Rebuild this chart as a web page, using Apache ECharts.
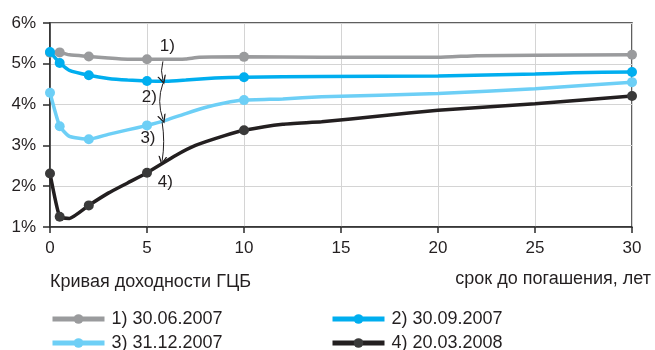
<!DOCTYPE html>
<html>
<head>
<meta charset="utf-8">
<script src="https://cdn.jsdelivr.net/npm/echarts@6/dist/echarts.min.js"></script>
<style>
  html, body { margin: 0; padding: 0; background: #fff; }
  #chart { width: 655px; height: 350px; }
</style>
</head>
<body>
<div id="chart"></div>
<script>
// Yield curves of government bonds (ГЦБ): yield, % vs. years to maturity
const seriesNames = ['1) 30.06.2007', '2) 30.09.2007', '3) 31.12.2007', '4) 20.03.2008'];
const seriesColors = ['#9a9b9d', '#00aeef', '#6dcff6', '#231f20'];

// maturities that carry a dot marker on every curve
const markedTerms = [0, 0.5, 2, 5, 10, 30];

const terms1  = [0, 0.5, 1, 2, 3, 4, 5, 6, 7, 7.7, 10, 14, 20, 22, 25, 30];
const yields1 = [5.27, 5.28, 5.22, 5.18, 5.14, 5.11, 5.11, 5.11, 5.12, 5.16, 5.17, 5.16, 5.16, 5.2, 5.21, 5.22];

const terms2  = [0, 0.5, 1, 2, 3, 4, 5, 6, 7, 8.5, 10, 14, 20, 25, 27, 30];
const yields2 = [5.29, 5.02, 4.84, 4.72, 4.64, 4.6, 4.58, 4.57, 4.6, 4.65, 4.67, 4.69, 4.7, 4.75, 4.78, 4.8];

const terms3  = [0, 0.5, 1, 2, 3, 4, 5, 6, 7, 8, 9, 10, 12, 14, 20, 25, 30];
const yields3 = [4.29, 3.47, 3.22, 3.15, 3.27, 3.38, 3.49, 3.62, 3.78, 3.93, 4.04, 4.11, 4.14, 4.19, 4.27, 4.39, 4.55];

const terms4  = [0, 0.5, 1, 2, 3, 4, 5, 6.5, 7.5, 9, 10, 12, 14, 17, 20, 25, 30];
const yields4 = [2.31, 1.25, 1.21, 1.53, 1.83, 2.08, 2.33, 2.76, 3.0, 3.24, 3.37, 3.52, 3.58, 3.72, 3.86, 4.02, 4.21];

// axis ticks
const xTicks = [0, 5, 10, 15, 20, 25, 30];
const yTicks = [1, 2, 3, 4, 5, 6];

// arrows between successive curves: [term, fromYield, toYield, curveness]
const arrowSpans = [
  [5.82, 5.06, 4.60, -0.15],
  [5.82, 4.52, 3.64, -0.18],
  [5.78, 3.57, 2.62, 0.08]
];
// curve number labels: [term, yield, text]
const curveLabels = [
  [6.05, 5.42, '1)'],
  [5.12, 4.18, '2)'],
  [5.05, 3.18, '3)'],
  [5.95, 2.10, '4)']
];

const FONT = '"Liberation Sans Narrow", "Liberation Sans", Arial, sans-serif';
const TEXT = '#231f20';

function buildData(terms, yields) {
  return terms.map((t, i) => ({
    value: [t, yields[i]],
    symbol: markedTerms.includes(t) ? 'circle' : 'none'
  }));
}

const allTerms = [terms1, terms2, terms3, terms4];
const allYields = [yields1, yields2, yields3, yields4];

const series = seriesNames.map((name, k) => ({
  name: name,
  type: 'line',
  smooth: 0.15,
  data: buildData(allTerms[k], allYields[k]),
  symbol: 'circle',
  symbolSize: 10,
  color: seriesColors[k],
  lineStyle: { width: 3.5, color: seriesColors[k] },
  itemStyle: { color: k === 3 ? '#3a3a3a' : seriesColors[k] },
  z: 3 + k,
  animation: false
}));

// curved arrows from one curve to the next
series.push({
  name: 'arrows',
  type: 'lines',
  coordinateSystem: 'cartesian2d',
  silent: true,
  animation: false,
  z: 10,
  symbol: ['none', 'path://M0,10L5,0L10,10L8.4,10L5,3.4L1.6,10Z'],
  symbolSize: 9,
  data: arrowSpans.map(a => ({
    coords: [[a[0], a[1]], [a[0], a[2]]],
    lineStyle: { curveness: a[3] }
  })),
  lineStyle: { color: TEXT, width: 1, opacity: 1 }
});

// curve number labels
series.push({
  name: 'labels',
  type: 'line',
  data: [],
  animation: false,
  z: 10,
  markPoint: {
    silent: true,
    animation: false,
    symbol: 'circle',
    symbolSize: 0,
    data: curveLabels.map(l => ({
      coord: [l[0], l[1]],
      label: { show: true, formatter: l[2] }
    })),
    label: {
      show: true,
      position: 'inside',
      color: TEXT,
      fontFamily: FONT,
      fontSize: 17
    }
  }
});

const legends = seriesNames.map((name, k) => ({
  data: [name],
  left: k % 2 === 0 ? 50 : 330,
  top: k < 2 ? 310 : 334,
  itemWidth: 52,
  itemHeight: 12,
  itemGap: 10,
  selectedMode: false,
  lineStyle: { width: 5 },
  textStyle: { fontFamily: FONT, fontSize: 18, color: TEXT, padding: [0, 0, 0, 2] },
  padding: 0
}));

const chart = echarts.init(document.getElementById('chart'), null, { renderer: 'canvas' });
chart.setOption({
  backgroundColor: '#ffffff',
  animation: false,
  grid: {
    left: 50, right: 23, top: 23, bottom: 123,
    show: true,
    borderColor: '#2b2b2b',
    borderWidth: 1.5,
    backgroundColor: 'transparent'
  },
  legend: legends,
  xAxis: {
    type: 'value',
    min: xTicks[0],
    max: xTicks[xTicks.length - 1],
    interval: 5,
    axisLine: { show: true, lineStyle: { color: '#2b2b2b', width: 1.5 } },
    axisTick: { show: true, length: 6, lineStyle: { color: '#2b2b2b', width: 1.5 } },
    axisLabel: { fontFamily: FONT, fontSize: 17, color: TEXT, margin: 13 },
    splitLine: { show: true, lineStyle: { color: '#d4d4d4', width: 1 } }
  },
  yAxis: {
    type: 'value',
    min: yTicks[0],
    max: yTicks[yTicks.length - 1],
    interval: 1,
    axisLine: { show: true, lineStyle: { color: '#2b2b2b', width: 1.5 } },
    axisTick: { show: true, length: 7, lineStyle: { color: '#2b2b2b', width: 1.5 } },
    axisLabel: { fontFamily: FONT, fontSize: 17, color: TEXT, margin: 14, formatter: v => v + '%' },
    splitLine: { show: true, lineStyle: { color: '#d4d4d4', width: 1 } }
  },
  graphic: [
    {
      type: 'text', left: 50, top: 273,
      style: { text: 'Кривая доходности ГЦБ', font: '18px ' + FONT, fill: TEXT }
    },
    {
      type: 'text', right: 4, top: 270,
      style: { text: 'срок до погашения, лет', font: '18px ' + FONT, fill: TEXT }
    }
  ],
  series: series
});
</script>
</body>
</html>
